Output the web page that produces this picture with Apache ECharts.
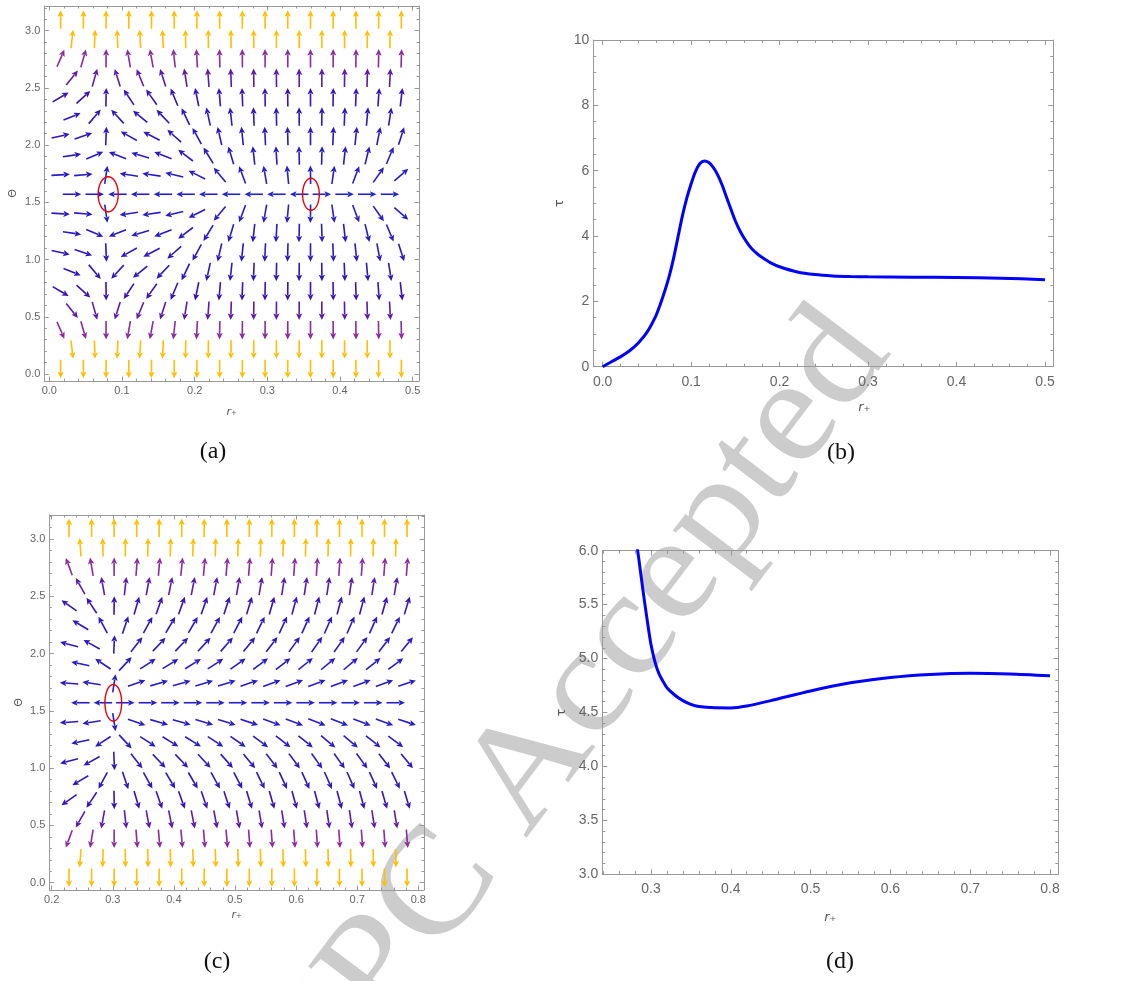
<!DOCTYPE html>
<html><head><meta charset="utf-8">
<script src="https://cdn.jsdelivr.net/npm/echarts@6/dist/echarts.min.js"></script>
<style>html,body{margin:0;padding:0;background:#fff}#chart{width:1142px;height:981px}</style>
</head><body><div id="chart"></div>
<script>
// ---------------- DATA ----------------
// Panel (a): sample columns r+ (hexagonal grid) and rows Theta
const rColsA = [0.0156,0.0313,0.0469,0.0625,0.0781,0.0938,0.1094,0.125,0.1406,0.1563,0.1719,0.1875,0.2031,0.2188,0.2344,0.25,0.2656,0.2813,0.2969,0.3125,0.3281,0.3438,0.3594,0.375,0.3906,0.4063,0.4219,0.4375,0.4531,0.4688,0.4844];
const phiRA = [0.454,0.399,0.303,0.138,0.004,-0.151,-0.179,-0.199,-0.190,-0.155,-0.113,-0.078,-0.055,-0.036,-0.023,-0.018,-0.0103,-0.0066,-0.0048,-0.0034,-0.0025,-0.0014,-0.0003,0.0017,0.0039,0.0066,0.0103,0.0144,0.0193,0.0248,0.0316];
// Panel (c)
const rColsC = [0.2284,0.2469,0.2653,0.2838,0.3022,0.3206,0.3391,0.3575,0.3759,0.3944,0.4128,0.4313,0.4497,0.4681,0.4866,0.505,0.5234,0.5419,0.5603,0.5788,0.5972,0.6156,0.6341,0.6525,0.6709,0.6894,0.7078,0.7263,0.7447,0.7631,0.7816];
const phiRC = [-0.458,-0.327,-0.213,-0.106,0.005,0.065,0.095,0.108,0.113,0.115,0.115,0.113,0.111,0.108,0.105,0.101,0.098,0.095,0.092,0.090,0.088,0.087,0.085,0.085,0.085,0.085,0.087,0.088,0.092,0.095,0.098];
// shared rows (Theta) and Theta-component of the field
const thetaRows = [0.0435,0.2132,0.3829,0.5526,0.7223,0.8920,1.0617,1.2314,1.4011,1.5708,1.7405,1.9102,2.0799,2.2496,2.4193,2.5890,2.7587,2.9284,3.0981];
const phiTheta = [-528,-21.83,-6.647,-3.089,-1.717,-1.037,-0.639,-0.375,-0.174,0,0.174,0.375,0.639,1.037,1.717,3.089,6.647,21.83,528];
// zero points (red ellipses): [r, Theta, half-width r, half-height Theta]
const zerosA = [[0.081,1.5708,0.0138,0.153],[0.360,1.5708,0.0115,0.140]];
const zerosC = [[0.3008,1.5708,0.0137,0.160]];
// Panel (b): tau vs r+
const rB   = [0,0.01,0.02,0.03,0.04,0.05,0.06,0.065,0.07,0.075,0.08,0.085,0.09,0.095,0.10,0.105,0.11,0.115,0.12,0.125,0.13,0.135,0.14,0.145,0.15,0.155,0.16,0.165,0.17,0.175,0.18,0.19,0.20,0.22,0.24,0.26,0.28,0.30,0.35,0.40,0.45,0.50];
const tauB = [0,0.15,0.30,0.48,0.72,1.05,1.55,1.90,2.30,2.75,3.30,3.95,4.60,5.15,5.60,5.98,6.22,6.30,6.25,6.10,5.87,5.56,5.19,4.82,4.46,4.17,3.93,3.73,3.57,3.45,3.35,3.18,3.06,2.90,2.82,2.78,2.76,2.75,2.74,2.73,2.71,2.66];
// Panel (d)
const rD   = [0.276,0.28,0.285,0.29,0.295,0.30,0.305,0.31,0.315,0.32,0.33,0.34,0.35,0.36,0.38,0.40,0.42,0.45,0.50,0.55,0.60,0.65,0.70,0.75,0.80];
const tauD = [6.42,6.18,5.91,5.63,5.37,5.13,4.97,4.86,4.79,4.73,4.66,4.61,4.575,4.555,4.543,4.542,4.56,4.61,4.70,4.775,4.825,4.853,4.863,4.857,4.84];
// tick labels
const ticksRA = [0,0.1,0.2,0.3,0.4,0.5];
const ticksRC = [0.2,0.3,0.4,0.5,0.6,0.7,0.8];
const ticksRD = [0.3,0.4,0.5,0.6,0.7,0.8];
const ticksTheta = [0,0.5,1.0,1.5,2.0,2.5,3.0];
const ticksTauB = [0,2,4,6,8,10];
const ticksTauD = [3.0,3.5,4.0,4.5,5.0,5.5,6.0];
const panelLabels = ['(a)','(b)','(c)','(d)'];
const watermarkText = 'CPC Accepted';

// ---------------- helpers ----------------
function range(a,b,s){const o=[];for(let v=a;v<=b+1e-9;v+=s){o.push(Math.round(v*1e6)/1e6);}return o;}
function minorOf(a,b,s,majors){return range(a,b,s).filter(v=>!majors.some(m=>Math.abs(m-v)<1e-6));}
const FONT='Liberation Sans, Arial, DejaVu Sans, sans-serif';
const FRAME='#999999', LABEL='#666666';

function buildField(rCols, phiR){
  const out=[];
  for(let k=0;k<thetaRows.length;k++){
    for(let m=1;m<=rCols.length;m++){
      if((m%2===1)===(k%2===0)) out.push([rCols[m-1],thetaRows[k],phiR[m-1],phiTheta[k]]);
    }
  }
  return out;
}
const stops=[[-1.5,[36,36,205]],[-0.3,[42,26,192]],[0.25,[58,18,182]],[0.5,[92,26,170]],[0.82,[138,44,156]],[1.05,[175,70,120]],[1.3,[255,190,0]]];
function colorFor(mag){
  const l=Math.log10(Math.max(mag,1e-3));
  if(l<=stops[0][0]) return 'rgb('+stops[0][1].join(',')+')';
  for(let i=1;i<stops.length;i++){
    if(l<=stops[i][0]){const t=(l-stops[i-1][0])/(stops[i][0]-stops[i-1][0]);
      const c=stops[i-1][1].map((v,j)=>Math.round(v+(stops[i][1][j]-v)*t));return 'rgb('+c.join(',')+')';}
  }
  return 'rgb('+stops[stops.length-1][1].join(',')+')';
}
function arrowRender(params, api){
  const r=api.value(0), t=api.value(1), vr=api.value(2), vt=api.value(3);
  const p0=api.coord([r,t]);
  const p1=api.coord([r+vr*1e-4,t+vt*1e-4]);
  let dx=p1[0]-p0[0], dy=p1[1]-p0[1]; const len=Math.hypot(dx,dy)||1; dx/=len; dy/=len;
  const L=18.5, hl=6.5, hw=3.1;
  const tail=[p0[0]-dx*L/2,p0[1]-dy*L/2], tip=[p0[0]+dx*L/2,p0[1]+dy*L/2];
  const base=[tip[0]-dx*hl,tip[1]-dy*hl];
  const px=-dy, py=dx;
  const c=colorFor(Math.hypot(vr,vt));
  return {type:'group',children:[
    {type:'line',shape:{x1:tail[0],y1:tail[1],x2:base[0]+dx,y2:base[1]+dy},style:{stroke:c,lineWidth:1.6}},
    {type:'polygon',shape:{points:[tip,[base[0]+px*hw,base[1]+py*hw],[base[0]+dx*1.3,base[1]+dy*1.3],[base[0]-px*hw,base[1]-py*hw]]},style:{fill:c}}
  ]};
}
function ellipseRender(params, api){
  const c=api.coord([api.value(0),api.value(1)]);
  const s=api.size([api.value(2),api.value(3)]);
  const pts=[];for(let i=0;i<72;i++){const a=i/72*Math.PI*2;pts.push([c[0]+s[0]*Math.cos(a),c[1]+s[1]*Math.sin(a)]);}
  return {type:'polygon',shape:{points:pts},style:{fill:'none',stroke:'#e8000b',lineWidth:1.4}};
}

// axes builder
const xAxes=[], yAxes=[];
function addAxes(gi, cfg){
  const lineOn={show:true,onZero:false,lineStyle:{color:FRAME,width:1}};
  const lineOff={show:false,onZero:false};
  const base={gridIndex:gi,type:'value',splitLine:{show:false}};
  const tick=(vals,len)=>({show:true,inside:true,length:len,customValues:vals,lineStyle:{color:FRAME,width:1}});
  xAxes.push(Object.assign({},base,{position:'bottom',min:cfg.x[0],max:cfg.x[1],axisLine:lineOn,
    axisTick:tick(cfg.xMaj,cfg.maj),
    axisLabel:{show:true,customValues:cfg.xMaj,formatter:cfg.xFmt,color:LABEL,fontSize:cfg.fs,fontFamily:FONT,margin:cfg.xMargin,showMinLabel:true,showMaxLabel:true,hideOverlap:false},
    name:'{i|r}{s|₊}',nameLocation:'middle',nameGap:cfg.xNameGap,
    nameTextStyle:{color:'#555',fontFamily:FONT,padding:cfg.xNamePad||0,rich:{i:{fontStyle:'italic',fontSize:cfg.nfs,color:'#555',fontFamily:'DejaVu Sans'},s:{fontSize:cfg.nfs,color:'#555',fontFamily:'DejaVu Sans'}}}}));
  xAxes.push(Object.assign({},base,{position:'bottom',min:cfg.x[0],max:cfg.x[1],axisLine:lineOff,axisTick:tick(cfg.xMin,cfg.min),axisLabel:{show:false}}));
  xAxes.push(Object.assign({},base,{position:'top',min:cfg.x[0],max:cfg.x[1],axisLine:lineOn,axisTick:tick(cfg.xMaj,cfg.maj),axisLabel:{show:false}}));
  xAxes.push(Object.assign({},base,{position:'top',min:cfg.x[0],max:cfg.x[1],axisLine:lineOff,axisTick:tick(cfg.xMin,cfg.min),axisLabel:{show:false}}));
  yAxes.push(Object.assign({},base,{position:'left',min:cfg.y[0],max:cfg.y[1],axisLine:lineOn,
    axisTick:tick(cfg.yMaj,cfg.maj),
    axisLabel:{show:true,customValues:cfg.yMaj,formatter:cfg.yFmt,color:LABEL,fontSize:cfg.fs,fontFamily:FONT,margin:cfg.yMargin,showMinLabel:true,showMaxLabel:true,hideOverlap:false},
    name:cfg.yName,nameLocation:'middle',nameRotate:90,nameGap:cfg.yNameGap,
    nameTextStyle:{color:'#555',fontSize:cfg.nfs,fontFamily:'DejaVu Sans'}}));
  yAxes.push(Object.assign({},base,{position:'left',min:cfg.y[0],max:cfg.y[1],axisLine:lineOff,axisTick:tick(cfg.yMin,cfg.min),axisLabel:{show:false}}));
  yAxes.push(Object.assign({},base,{position:'right',min:cfg.y[0],max:cfg.y[1],axisLine:lineOn,axisTick:tick(cfg.yMaj,cfg.maj),axisLabel:{show:false}}));
  yAxes.push(Object.assign({},base,{position:'right',min:cfg.y[0],max:cfg.y[1],axisLine:lineOff,axisTick:tick(cfg.yMin,cfg.min),axisLabel:{show:false}}));
}
const f1=v=>v.toFixed(1), f0=v=>v.toFixed(0);
addAxes(0,{x:[-0.0069,0.5087],y:[-0.0612,3.2159],xMaj:ticksRA,xMin:minorOf(0,0.5,0.02,ticksRA),yMaj:ticksTheta,yMin:minorOf(0,3.2,0.1,ticksTheta),
  xFmt:f1,yFmt:f1,fs:11,nfs:11,maj:4.5,min:2.5,xMargin:4,yMargin:4,xNameGap:26,yName:'Θ',yNameGap:26});
addAxes(1,{x:[-0.0106,0.5094],y:[0,10],xMaj:ticksRA,xMin:minorOf(0,0.5,0.02,ticksRA),yMaj:ticksTauB,yMin:minorOf(0,10,0.5,ticksTauB),
  xFmt:f1,yFmt:f0,fs:14,nfs:13,maj:5,min:3,xMargin:8,yMargin:4,xNameGap:34,xNamePad:[0,0,0,82],yName:'τ',yNameGap:27});
addAxes(2,{x:[0.1961,0.8093],y:[-0.0637,3.2095],xMaj:ticksRC,xMin:minorOf(0.2,0.8,0.02,ticksRC),yMaj:ticksTheta,yMin:minorOf(0,3.2,0.1,ticksTheta),
  xFmt:f1,yFmt:f1,fs:11,nfs:11,maj:4.5,min:2.5,xMargin:4,yMargin:4,xNameGap:20,yName:'Θ',yNameGap:25});
addAxes(3,{x:[0.239,0.8104],y:[3,6],xMaj:ticksRD,xMin:minorOf(0.24,0.8,0.02,ticksRD),yMaj:ticksTauD,yMin:minorOf(3,6,0.1,ticksTauD),
  xFmt:f1,yFmt:f1,fs:14,nfs:13,maj:5,min:3,xMargin:8,yMargin:4,xNameGap:37,yName:'τ',yNameGap:34});

const grids=[
  {left:44.3,top:6,width:374.7,height:375},
  {left:593.3,top:40,width:460,height:326.7},
  {left:49.3,top:515,width:374.7,height:375},
  {left:602.3,top:550.7,width:456,height:323.6}
].map(g=>Object.assign({containLabel:false,outerBoundsMode:'none'},g));

const series=[
  {type:'custom',name:'field a',xAxisIndex:0,yAxisIndex:0,renderItem:arrowRender,data:buildField(rColsA,phiRA),clip:true,z:3},
  {type:'custom',name:'zeros a',xAxisIndex:0,yAxisIndex:0,renderItem:ellipseRender,data:zerosA,z:4},
  {type:'line',name:'tau b',xAxisIndex:4,yAxisIndex:4,data:rB.map((r,i)=>[r,tauB[i]]),showSymbol:false,smooth:0.25,
    lineStyle:{color:'#0000ff',width:3},clip:true,z:3},
  {type:'custom',name:'field c',xAxisIndex:8,yAxisIndex:8,renderItem:arrowRender,data:buildField(rColsC,phiRC),clip:true,z:3},
  {type:'custom',name:'zeros c',xAxisIndex:8,yAxisIndex:8,renderItem:ellipseRender,data:zerosC,z:4},
  {type:'line',name:'tau d',xAxisIndex:12,yAxisIndex:12,data:rD.map((r,i)=>[r,tauD[i]]),showSymbol:false,smooth:0.25,
    lineStyle:{color:'#0000ff',width:3},clip:true,z:3}
];

const labelPos=[[213,452],[841,453],[217,962],[840,962]];
const graphic=[
  {type:'text',z:-10,x:574,y:710,rotation:53*Math.PI/180,scaleX:1.09,scaleY:1,style:{text:watermarkText,font:'148px "Liberation Serif", "DejaVu Serif", serif',fill:'#cccccc',textAlign:'center',textVerticalAlign:'middle'}}
].concat(panelLabels.map((t,i)=>({type:'text',z:10,x:labelPos[i][0],y:labelPos[i][1],
  style:{text:t,font:'24px "Liberation Serif", "DejaVu Serif", serif',fill:'#111',textAlign:'center',textVerticalAlign:'middle'}})));

const chart=echarts.init(document.getElementById('chart'),null,{renderer:'canvas'});
chart.setOption({animation:false,backgroundColor:'#fff',grid:grids,xAxis:xAxes,yAxis:yAxes,series:series,graphic:graphic});
</script></body></html>
